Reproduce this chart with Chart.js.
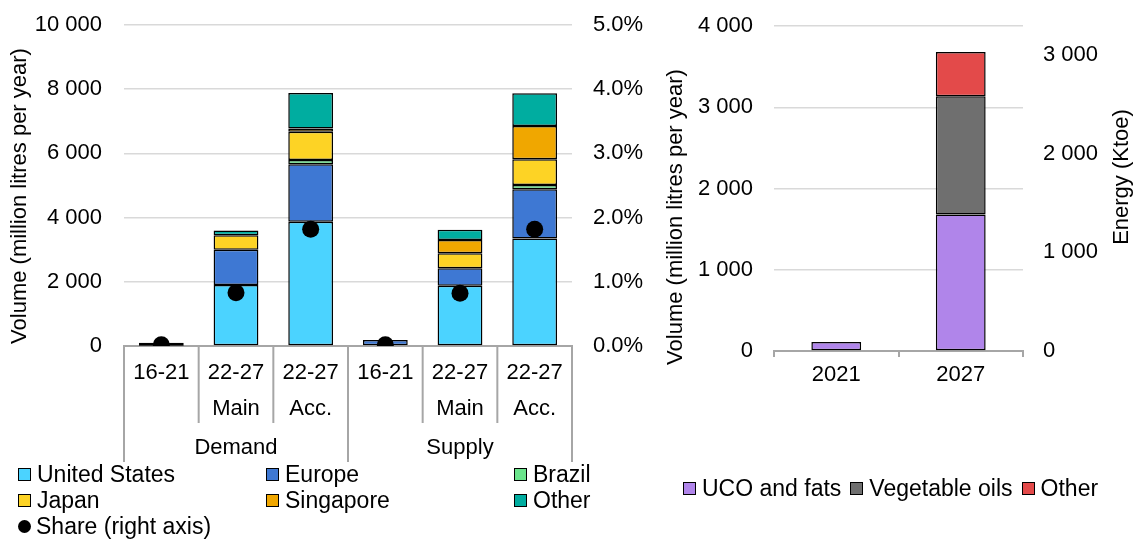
<!DOCTYPE html>
<html>
<head>
<meta charset="utf-8">
<script src="https://cdn.jsdelivr.net/npm/chart.js@4/dist/chart.umd.min.js"></script>
<style>
  html, body { margin: 0; padding: 0; background: #fff; }
  body { width: 1136px; height: 541px; position: relative; overflow: hidden;
         font-family: "Liberation Sans", Arial, sans-serif; color: #000; }
  canvas { position: absolute; top: 0; }
  #left { left: 0; }
  #right { left: 655px; }
  .item { position: absolute; display: flex; align-items: center; white-space: nowrap;
          font-size: 23px; line-height: 26px; height: 26px; }
  .box { width: 11px; height: 11px; border: 1px solid #000; margin-right: 6px; flex: none; }
  .dot { width: 13px; height: 13px; border-radius: 50%; background: #000; margin-right: 5px; flex: none; }
  .row { position: absolute; display: flex; align-items: center; white-space: nowrap;
         font-size: 23px; line-height: 26px; height: 26px; }
  .row .box { margin-right: 6px; }
  .row span.t { margin-right: 9px; }
</style>
</head>
<body>
<canvas id="left" width="655" height="541"></canvas>
<canvas id="right" width="481" height="541"></canvas>
<div id="legendLeft"></div>
<div id="legendRight"></div>
<script>
// ---- Regional SAF volumes by case (million litres per year) ----
const periodLabels = [['16-21', ''], ['22-27', 'Main'], ['22-27', 'Acc.'],
                      ['16-21', ''], ['22-27', 'Main'], ['22-27', 'Acc.']];
const groupLabels = ['Demand', 'Supply'];

const unitedStates = [10, 1900, 3870, 20, 1880, 3350];
const europe       = [90, 1100, 1790, 170, 540, 1530];
const brazil       = [null, null, 135, null, null, 135];
const japan        = [null, 450, 880, null, 470, 800];
const singapore    = [null, null, 100, null, 410, 1040];
const otherRegion  = [null, 150, 1110, null, 320, 1020];
const sharePct     = [0.02, 0.83, 1.82, 0.02, 0.82, 1.82];   // % of jet fuel, right axis

const volumeTicks = [0, 2000, 4000, 6000, 8000, 10000];
const shareTicks  = [0, 1, 2, 3, 4, 5];

// ---- Feedstock split (million litres per year) ----
const years      = ['2021', '2027'];
const ucoFats    = [110, 1680];
const vegOils    = [null, 1455];
const otherFeed  = [null, 545];
const feedTicks  = [0, 1000, 2000, 3000, 4000];
const ktoePerMl  = 0.824;           // energy conversion for the secondary axis
const energyTicks = [0, 1000, 2000, 3000];

// ---- Styling ----
const regionNames  = ['United States', 'Europe', 'Brazil', 'Japan', 'Singapore', 'Other'];
const regionColors = ['#4BD3FF', '#3E78D3', '#6BE58C', '#FDD325', '#F0A700', '#00ADA0'];
const feedNames    = ['UCO and fats', 'Vegetable oils', 'Other'];
const feedColors   = ['#B085EA', '#6F6F6F', '#E34A4A'];

const FONT = '"Liberation Sans", Arial, sans-serif';
Chart.defaults.font.family = FONT;
Chart.defaults.font.size = 22;
Chart.defaults.color = '#000';

const gridColor = '#d9d9d9';
const axisColor = '#a6a6a6';
const spaced = v => String(Math.round(v)).replace(/\B(?=(\d{3})+(?!\d))/g, ' ');
const hideZeroLine = c => (c.tick && c.tick.value === 0) ? 'rgba(0,0,0,0)' : gridColor;

// Fixed-width value axes; the plot edges are set by the layout padding alone
const fixWidth = w => s => { s.width = w; s.paddingTop = 0; s.paddingBottom = 0; };

// Rotated axis titles placed along the chart edges
const sideTitles = {
  id: 'sideTitles',
  afterDraw(chart, args, opts) {
    const ctx = chart.ctx;
    for (const t of opts.items) {
      ctx.save();
      ctx.translate(t.x, t.y);
      ctx.rotate(-Math.PI / 2);
      ctx.font = '22px ' + FONT;
      ctx.fillStyle = '#000';
      ctx.textAlign = 'center';
      ctx.textBaseline = 'middle';
      ctx.fillText(t.text, 0, 0);
      ctx.restore();
    }
  }
};

// Two-level category axis: separators between periods and group captions
const groupAxis = {
  id: 'groupAxis',
  afterDraw(chart, args, opts) {
    const {ctx, scales: {x}} = chart;
    const n = x.ticks.length;
    const per = n / groupLabels.length;
    ctx.save();
    ctx.strokeStyle = axisColor;
    ctx.lineWidth = 2;
    for (let i = 0; i <= n; i++) {
      let px;
      if (i === 0) px = x.left;
      else if (i === n) px = x.right;
      else px = (x.getPixelForTick(i - 1) + x.getPixelForTick(i)) / 2;
      const len = (i % per === 0) ? opts.outerLen : opts.innerLen;
      ctx.beginPath();
      ctx.moveTo(px, x.top);
      ctx.lineTo(px, x.top + len);
      ctx.stroke();
    }
    ctx.font = '22px ' + FONT;
    ctx.fillStyle = '#000';
    ctx.textAlign = 'center';
    ctx.textBaseline = 'middle';
    groupLabels.forEach((g, gi) => {
      const a = x.getPixelForTick(gi * per);
      const b = x.getPixelForTick(gi * per + per - 1);
      ctx.fillText(g, (a + b) / 2, x.top + opts.labelOffset);
    });
    ctx.restore();
  }
};

const regionSeries = [unitedStates, europe, brazil, japan, singapore, otherRegion];

new Chart(document.getElementById('left'), {
  type: 'bar',
  data: {
    labels: periodLabels,
    datasets: [
      {
        type: 'line', label: 'Share (right axis)', data: sharePct, yAxisID: 'y1',
        showLine: false, pointRadius: 8.5, pointHoverRadius: 8.5,
        pointBackgroundColor: '#000', pointBorderWidth: 0, order: 0
      },
      ...regionSeries.map((d, i) => ({
        label: regionNames[i], data: d, yAxisID: 'y', order: 1,
        backgroundColor: regionColors[i], borderColor: '#000', borderWidth: 1.5,
        borderSkipped: false, barPercentage: 0.6, categoryPercentage: 1
      }))
    ]
  },
  options: {
    responsive: false, animation: false,
    layout: { padding: { top: 25, left: 0, right: 0, bottom: 0 } },
    plugins: {
      legend: { display: false }, tooltip: { enabled: false },
      sideTitles: { items: [{ text: 'Volume (million litres per year)', x: 20, y: 196 }] },
      groupAxis: { innerLen: 77, outerLen: 116, labelOffset: 102 }
    },
    scales: {
      x: {
        stacked: true,
        grid: { display: false },
        border: { display: true, color: axisColor, width: 2 },
        ticks: { padding: 1, font: { size: 22, lineHeight: 36 / 22 }, maxRotation: 0, autoSkip: false },
        afterFit: s => { s.height = 195; }
      },
      y: {
        stacked: true, min: volumeTicks[0], max: volumeTicks[volumeTicks.length - 1],
        afterBuildTicks: s => { s.ticks = volumeTicks.map(v => ({ value: v })); },
        grid: { color: hideZeroLine, lineWidth: 1.5, drawTicks: false },
        border: { display: false },
        ticks: { padding: 22, callback: v => spaced(v) },
        afterFit: fixWidth(124)
      },
      y1: {
        position: 'right', stacked: false, min: shareTicks[0], max: shareTicks[shareTicks.length - 1],
        afterBuildTicks: s => { s.ticks = shareTicks.map(v => ({ value: v })); },
        grid: { display: false, drawTicks: false },
        border: { display: false },
        ticks: { padding: 21, callback: v => v.toFixed(1) + '%' },
        afterFit: fixWidth(83)
      }
    }
  },
  plugins: [sideTitles, groupAxis]
});

const feedSeries = [ucoFats, vegOils, otherFeed];

new Chart(document.getElementById('right'), {
  type: 'bar',
  data: {
    labels: years,
    datasets: feedSeries.map((d, i) => ({
      label: feedNames[i], data: d,
      backgroundColor: feedColors[i], borderColor: '#000', borderWidth: 1.5,
      borderSkipped: false, barPercentage: 0.4, categoryPercentage: 1
    }))
  },
  options: {
    responsive: false, animation: false,
    layout: { padding: { top: 26, left: 0, right: 0, bottom: 0 } },
    plugins: {
      legend: { display: false }, tooltip: { enabled: false },
      sideTitles: { items: [
        { text: 'Volume (million litres per year)', x: 21, y: 217 },
        { text: 'Energy (Ktoe)', x: 467, y: 177 }
      ] }
    },
    scales: {
      x: {
        stacked: true,
        grid: { offset: true, drawOnChartArea: false, drawTicks: true, tickLength: 6, color: axisColor, lineWidth: 2 },
        border: { display: true, color: axisColor, width: 2 },
        ticks: { padding: 5, maxRotation: 0 },
        afterFit: s => { s.height = 190; }
      },
      y: {
        stacked: true, min: feedTicks[0], max: feedTicks[feedTicks.length - 1],
        afterBuildTicks: s => { s.ticks = feedTicks.map(v => ({ value: v })); },
        grid: { color: hideZeroLine, lineWidth: 1.5, drawTicks: false },
        border: { display: false },
        ticks: { padding: 21, callback: v => spaced(v) },
        afterFit: fixWidth(119)
      },
      y1: {
        position: 'right', min: 0, max: feedTicks[feedTicks.length - 1] * ktoePerMl,
        afterBuildTicks: s => { s.ticks = energyTicks.map(v => ({ value: v })); },
        grid: { display: false, drawTicks: false },
        border: { display: false },
        ticks: { padding: 20, callback: v => spaced(v) },
        afterFit: fixWidth(113)
      }
    }
  },
  plugins: [sideTitles]
});

// ---- Legends ----
const legL = document.getElementById('legendLeft');
const colX = [18, 266, 514];
const rowY = [461, 487, 513];
regionNames.forEach((name, i) => {
  const el = document.createElement('div');
  el.className = 'item';
  el.style.left = colX[i % 3] + 'px';
  el.style.top = rowY[Math.floor(i / 3)] + 'px';
  el.innerHTML = '<span class="box" style="background:' + regionColors[i] + '"></span><span>' + name + '</span>';
  legL.appendChild(el);
});
const shareItem = document.createElement('div');
shareItem.className = 'item';
shareItem.style.left = colX[0] + 'px';
shareItem.style.top = rowY[2] + 'px';
shareItem.innerHTML = '<span class="dot"></span><span>Share (right axis)</span>';
legL.appendChild(shareItem);

const legR = document.getElementById('legendRight');
const row = document.createElement('div');
row.className = 'row';
row.style.left = '683px';
row.style.top = '475px';
row.innerHTML = feedNames.map((n, i) =>
  '<span class="box" style="background:' + feedColors[i] + '"></span><span class="t">' + n + '</span>').join('');
legR.appendChild(row);
</script>
</body>
</html>
